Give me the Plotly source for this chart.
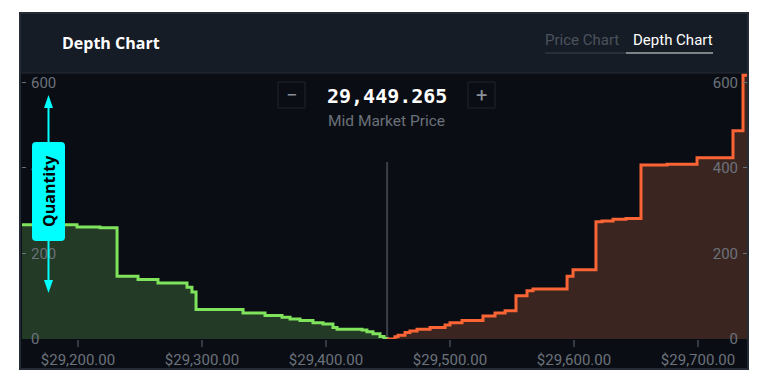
import plotly.graph_objects as go

# ---------------- data ----------------
mid_price = 29449.265
bid_price = [29154.8, 29199.2, 29217.7, 29231.5, 29248.4, 29264.5, 29287.9, 29291.9,
             29295.2, 29333.1, 29350.8, 29364.5, 29371.0, 29379.0, 29389.5, 29397.6,
             29405.6, 29408.9, 29429.0, 29433.0, 29437.9, 29443.5, 29446.8, 29449.265]
bid_qty = [267, 262, 260, 147, 139, 131, 121, 110, 69, 61, 55, 51, 47, 43, 38, 35,
           27, 23, 21, 17, 12, 6, 1, 0]

ask_price = [29449.265, 29455.6, 29458.1, 29463.7, 29467.7, 29473.4, 29483.9, 29496.0,
             29500.0, 29509.7, 29526.6, 29536.3, 29544.4, 29553.2, 29562.1, 29566.9,
             29594.4, 29599.2, 29617.7, 29622.6, 29631.5, 29641.9, 29654.0, 29675.0,
             29699.2, 29728.2, 29736.3, 29739.5]
ask_qty = [0, 5, 9, 15, 19, 23, 27, 33, 38, 43, 54, 61, 66, 101, 113, 117, 147, 162,
           274, 276, 280, 282, 407, 409, 424, 487, 617, 617]

x_ticks = [29200, 29300, 29400, 29500, 29600, 29700]
x_tick_text = [f"${v:,.2f}" for v in x_ticks]
y_ticks = [0, 200, 400, 600]
x_range = [29154.84, 29739.5]
y_range = [0, 622.2]

# ---------------- geometry helpers (page pixel -> paper) ----------------
OFF = 8                       # page body margin
L, R, T, B = 22, 747, 73, 339  # plot area in page pixels
W, H = 768 - OFF, 384 - OFF


def px(x):
    return (x - L) / (R - L)


def py(y):
    return (B - y) / (B - T)


PLOT_BG = "#0a0e14"
HEAD_BG = "#161c25"
GRAY = "#6c727b"

fig = go.Figure()

fig.add_trace(go.Scatter(
    x=bid_price, y=bid_qty, mode="lines", line=dict(color="#7fe35c", width=3, shape="hv"),
    fill="tozeroy", fillcolor="#233a26", hoverinfo="skip", showlegend=False))
fig.add_trace(go.Scatter(
    x=ask_price, y=ask_qty, mode="lines", line=dict(color="#fb6535", width=3, shape="hv"),
    fill="tozeroy", fillcolor="#3a2520", hoverinfo="skip", showlegend=False))
# invisible trace for right axis
fig.add_trace(go.Scatter(x=[x_range[0]], y=[0], yaxis="y2", mode="markers",
                         marker=dict(opacity=0), hoverinfo="skip", showlegend=False))

shapes = []
# panel background
shapes.append(dict(type="rect", xref="paper", yref="paper", layer="below",
                   x0=px(20), x1=px(748), y0=py(369), y1=py(13),
                   fillcolor=PLOT_BG, line=dict(color="#262c35", width=2)))
# header
shapes.append(dict(type="rect", xref="paper", yref="paper", layer="below",
                   x0=px(21), x1=px(747), y0=py(73), y1=py(14),
                   fillcolor=HEAD_BG, line=dict(width=0)))
shapes.append(dict(type="line", xref="paper", yref="paper", layer="below",
                   x0=px(21), x1=px(747), y0=py(73), y1=py(73),
                   line=dict(color="#242b35", width=1)))
# tab underlines
shapes.append(dict(type="line", xref="paper", yref="paper",
                   x0=px(545), x1=px(626), y0=py(53), y1=py(53),
                   line=dict(color="#3a414c", width=1)))
shapes.append(dict(type="line", xref="paper", yref="paper",
                   x0=px(626), x1=px(713), y0=py(53), y1=py(53),
                   line=dict(color="#e8eaec", width=1)))
# mid market vertical line
shapes.append(dict(type="line", xref="x", yref="paper", layer="below",
                   x0=mid_price, x1=mid_price, y0=0, y1=py(162),
                   line=dict(color="#3b4048", width=2)))
# -/+ boxes
for x0, x1 in [(278, 305), (468, 495)]:
    shapes.append(dict(type="rect", xref="paper", yref="paper",
                       x0=px(x0), x1=px(x1), y0=py(108), y1=py(82),
                       line=dict(color="#1e242d", width=1)))

# Quantity cyan box (rounded)
bx0, bx1, by0, by1, r = 32, 65, 142, 241, 4


def P(x, y):
    return f"{px(x):.5f},{py(y):.5f}"


path = (f"M {P(bx0 + r, by0)} L {P(bx1 - r, by0)} Q {P(bx1, by0)} {P(bx1, by0 + r)} "
        f"L {P(bx1, by1 - r)} Q {P(bx1, by1)} {P(bx1 - r, by1)} "
        f"L {P(bx0 + r, by1)} Q {P(bx0, by1)} {P(bx0, by1 - r)} "
        f"L {P(bx0, by0 + r)} Q {P(bx0, by0)} {P(bx0 + r, by0)} Z")
shapes.append(dict(type="path", xref="paper", yref="paper", path=path,
                   fillcolor="#00ffff", line=dict(width=0)))
ax = 48.5
shapes.append(dict(type="line", xref="paper", yref="paper",
                   x0=px(ax), x1=px(ax), y0=py(142), y1=py(105),
                   line=dict(color="#00ffff", width=2)))
shapes.append(dict(type="line", xref="paper", yref="paper",
                   x0=px(ax), x1=px(ax), y0=py(241), y1=py(283),
                   line=dict(color="#00ffff", width=2)))
shapes.append(dict(type="path", xref="paper", yref="paper",
                   path=f"M {P(44, 108)} L {P(53, 108)} L {P(ax, 95)} Z",
                   fillcolor="#00ffff", line=dict(width=0)))
shapes.append(dict(type="path", xref="paper", yref="paper",
                   path=f"M {P(44, 280)} L {P(53, 280)} L {P(ax, 293)} Z",
                   fillcolor="#00ffff", line=dict(width=0)))

annotations = [
    dict(text="<b>Depth Chart</b>", x=px(60), y=py(43), xanchor="left", yanchor="middle",
         font=dict(family="Open Sans", size=16, color="#ffffff")),
    dict(text="Price Chart", x=px(581.5), y=py(40), xanchor="center", yanchor="middle",
         font=dict(family="Roboto", size=15, color="#4a525e")),
    dict(text="Depth Chart", x=px(672.5), y=py(40), xanchor="center", yanchor="middle",
         font=dict(family="Roboto", size=15, color="#ffffff")),
    dict(text="<b>29,449.265</b>", x=px(386.5), y=py(96), xanchor="center", yanchor="middle",
         font=dict(family="DejaVu Sans Mono", size=20, color="#ffffff")),
    dict(text="Mid Market Price", x=px(386.5), y=py(121), xanchor="center", yanchor="middle",
         font=dict(family="Roboto", size=15.5, color="#6b717a")),
    dict(text="−", x=px(291.5), y=py(95), xanchor="center", yanchor="middle",
         font=dict(family="Roboto", size=20, color="#8a9099")),
    dict(text="+", x=px(481.5), y=py(95), xanchor="center", yanchor="middle",
         font=dict(family="Roboto", size=20, color="#8a9099")),
    dict(text="<b>Quantity</b>", x=px(48.5), y=py(191.5), xanchor="center", yanchor="middle",
         textangle=-90, font=dict(family="Open Sans", size=16, color="#000000")),
]
for a in annotations:
    a.update(xref="paper", yref="paper", showarrow=False)

yax = dict(range=y_range, tickvals=y_ticks, showgrid=False, zeroline=False, showline=False,
           ticks="inside", ticklen=4, tickcolor=GRAY, ticklabelposition="inside",
           ticklabeloverflow="allow", ticklabelstandoff=5,
           tickfont=dict(family="Roboto", size=15, color=GRAY), fixedrange=True)

fig.update_layout(
    width=W, height=H,
    margin=dict(l=L - OFF, r=W - (R - OFF), t=T - OFF, b=H - (B - OFF), pad=0),
    paper_bgcolor="#ffffff", plot_bgcolor=PLOT_BG,
    shapes=shapes, annotations=annotations,
    xaxis=dict(range=x_range, tickvals=x_ticks, ticktext=x_tick_text,
               showgrid=False, zeroline=False, showline=False,
               ticks="outside", ticklen=7, tickwidth=1.5, tickcolor="#343a43",
               tickfont=dict(family="Roboto", size=15, color=GRAY), fixedrange=True),
    yaxis=yax,
    yaxis2=dict(yax, overlaying="y", side="right"),
)

fig.write_html("out.html")
